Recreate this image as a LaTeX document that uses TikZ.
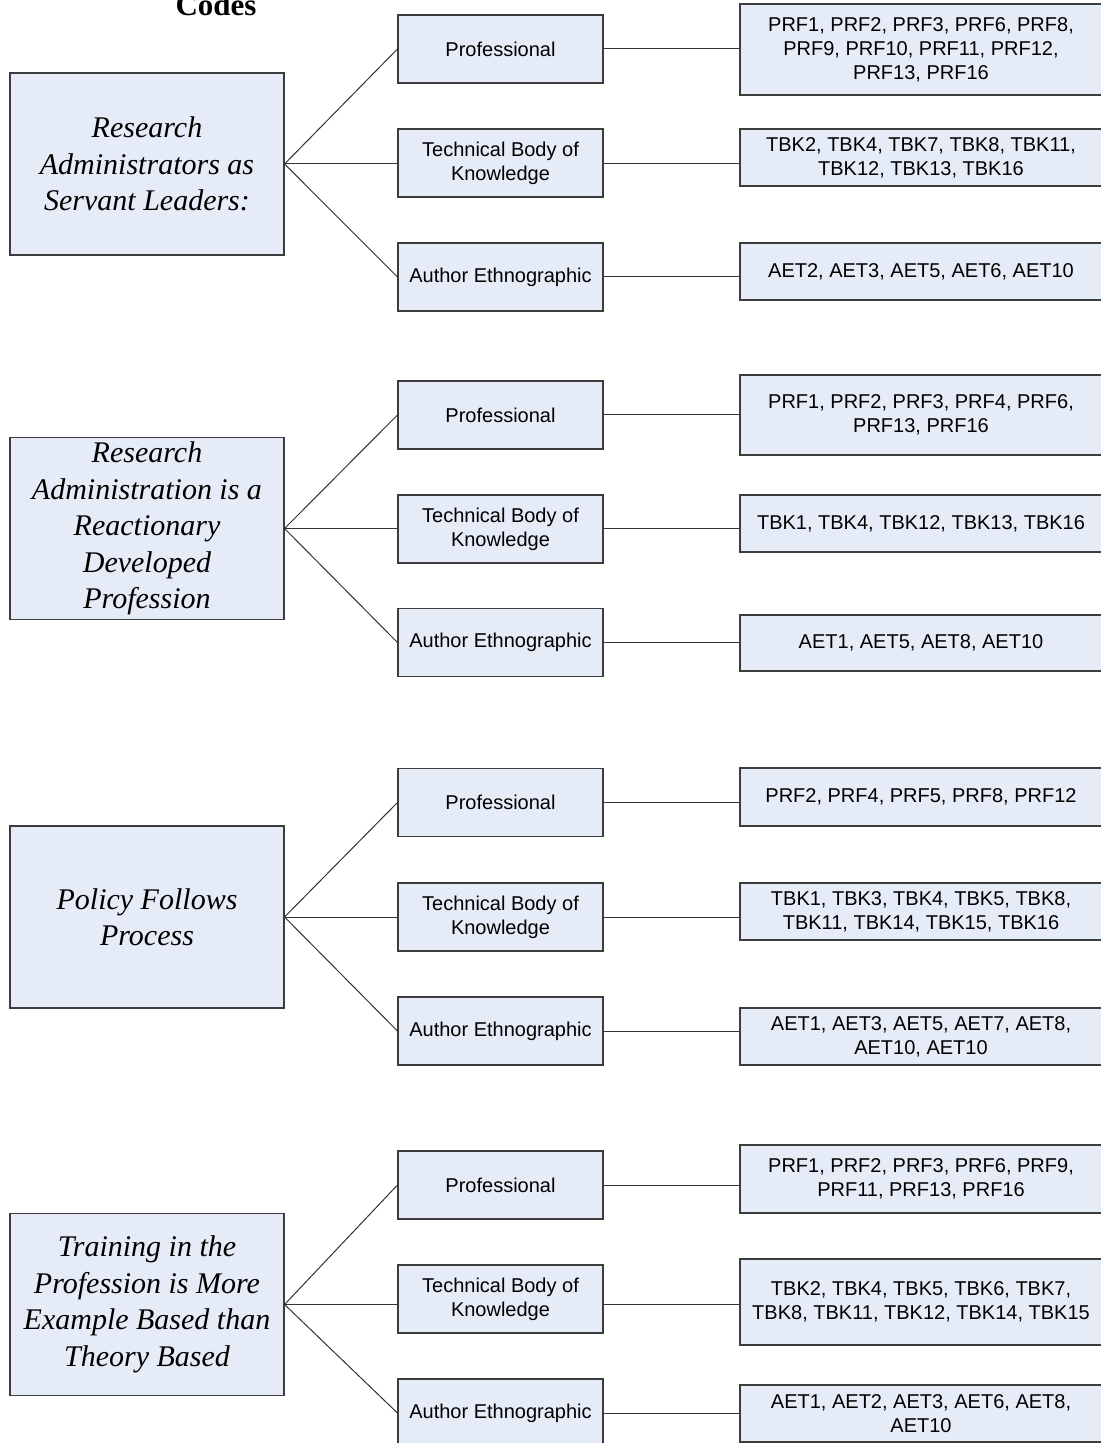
\documentclass[tikz,border=0pt]{standalone}
\usepackage{fontspec}
\setmainfont{Liberation Serif}
\newfontfamily\arialf{Liberation Sans}
\definecolor{boxc}{HTML}{E6ECF7}
\definecolor{bordc}{HTML}{3C3C3C}
\definecolor{linec}{HTML}{333333}
\begin{document}
\begin{tikzpicture}[x=0.5pt,y=-0.5pt,
  base/.style={draw=bordc, fill=boxc, line width=0.55pt, inner sep=0pt, align=center, rectangle},
  bigbox/.style={base, minimum width=137pt, minimum height=91pt,
    font=\fontsize{15}{18.25}\selectfont\itshape},
  midbox/.style={base, minimum width=102.5pt, minimum height=34pt,
    font=\arialf\fontsize{10}{12}\selectfont},
  codebox/.style={base, minimum width=181pt,
    font=\arialf\fontsize{10}{12}\selectfont},
  conn/.style={draw=linec, line width=0.5pt}]
\useasboundingbox (0,0) rectangle (1100,1443);

\node[anchor=base, font=\fontsize{15.5}{18}\selectfont\bfseries] (title) at (216,16) {Codes};

% ---------- Group 1 ----------
\node[bigbox] (b1) at (147,164) {Research\\Administrators as\\Servant Leaders:};
\node[midbox] (p1) at (500.5,49) {Professional};
\node[midbox] (t1) at (500.5,163) {Technical Body of\\Knowledge};
\node[midbox] (a1) at (500.5,277) {Author Ethnographic};
\node[codebox, minimum height=45.5pt] (cp1) at (921,49.5) {PRF1, PRF2, PRF3, PRF6, PRF8,\\PRF9, PRF10, PRF11, PRF12,\\PRF13, PRF16};
\node[codebox, minimum height=28.5pt] (ct1) at (921,157.5) {TBK2, TBK4, TBK7, TBK8, TBK11,\\TBK12, TBK13, TBK16};
\node[codebox, minimum height=28.5pt] (ca1) at (921,271.5) {AET2, AET3, AET5, AET6, AET10};

% ---------- Group 2 ----------
\node[bigbox] (b2) at (147,528.5) {Research\\Administration is a\\Reactionary\\Developed\\Profession};
\node[midbox] (p2) at (500.5,415) {Professional};
\node[midbox] (t2) at (500.5,529) {Technical Body of\\Knowledge};
\node[midbox] (a2) at (500.5,642.5) {Author Ethnographic};
\node[codebox, minimum height=40pt] (cp2) at (921,415) {PRF1, PRF2, PRF3, PRF4, PRF6,\\PRF13, PRF16};
\node[codebox, minimum height=28.5pt] (ct2) at (921,523.5) {TBK1, TBK4, TBK12, TBK13, TBK16};
\node[codebox, minimum height=28pt] (ca2) at (921,643) {AET1, AET5, AET8, AET10};

% ---------- Group 3 ----------
\node[bigbox] (b3) at (147,917) {Policy Follows\\Process};
\node[midbox] (p3) at (500.5,802.5) {Professional};
\node[midbox] (t3) at (500.5,917) {Technical Body of\\Knowledge};
\node[midbox] (a3) at (500.5,1031) {Author Ethnographic};
\node[codebox, minimum height=29pt] (cp3) at (921,797) {PRF2, PRF4, PRF5, PRF8, PRF12};
\node[codebox, minimum height=28.5pt] (ct3) at (921,911.5) {TBK1, TBK3, TBK4, TBK5, TBK8,\\TBK11, TBK14, TBK15, TBK16};
\node[codebox, minimum height=28.5pt] (ca3) at (921,1036.5) {AET1, AET3, AET5, AET7, AET8,\\AET10, AET10};

% ---------- Group 4 ----------
\node[bigbox] (b4) at (147,1304.5) {Training in the\\Profession is More\\Example Based than\\Theory Based};
\node[midbox] (p4) at (500.5,1185) {Professional};
\node[midbox] (t4) at (500.5,1299) {Technical Body of\\Knowledge};
\node[midbox] (a4) at (500.5,1413) {Author Ethnographic};
\node[codebox, minimum height=34pt] (cp4) at (921,1179) {PRF1, PRF2, PRF3, PRF6, PRF9,\\PRF11, PRF13, PRF16};
\node[codebox, minimum height=43pt] (ct4) at (921,1302) {TBK2, TBK4, TBK5, TBK6, TBK7,\\TBK8, TBK11, TBK12, TBK14, TBK15};
\node[codebox, minimum height=28.5pt] (ca4) at (921,1413.5) {AET1, AET2, AET3, AET6, AET8,\\AET10};

% ---------- Connectors ----------
\foreach \g in {1,2,3,4}{
  \draw[conn] (b\g.east) -- (p\g.west);
  \draw[conn] (b\g.east) -- (t\g.west |- b\g.east);
  \draw[conn] (b\g.east) -- (a\g.west);
  \draw[conn] (p\g.east) -- (cp\g.west |- p\g.east);
  \draw[conn] (t\g.east |- b\g.east) -- (ct\g.west |- b\g.east);
  \draw[conn] (a\g.east) -- (ca\g.west |- a\g.east);
}
\end{tikzpicture}
\end{document}
